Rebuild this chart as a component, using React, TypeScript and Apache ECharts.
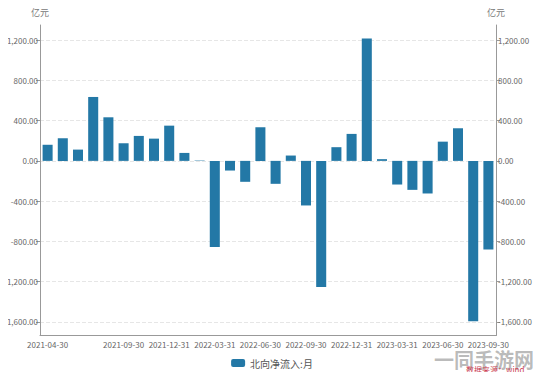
import React, { useEffect, useRef } from "react";
import * as echarts from "echarts";

const categories = [
  "2021-04-30", "2021-05-31", "2021-06-30", "2021-07-31", "2021-08-31", "2021-09-30",
  "2021-10-31", "2021-11-30", "2021-12-31", "2022-01-31", "2022-02-28", "2022-03-31",
  "2022-04-30", "2022-05-31", "2022-06-30", "2022-07-31", "2022-08-31", "2022-09-30",
  "2022-10-31", "2022-11-30", "2022-12-31", "2023-01-31", "2023-02-28", "2023-03-31",
  "2023-04-30", "2023-05-31", "2023-06-30", "2023-07-31", "2023-08-31", "2023-09-30",
];

const northboundFlow = [
  160, 225, 112, 635, 433, 175, 248, 221, 350, 79, 4, -856,
  -96, -208, 334, -228, 53, -443, -1253, 136, 268, 1217, 17, -235,
  -288, -324, 191, 324, -1594, -880,
];

const yTickValues = [-1600, -1200, -800, -400, 0, 400, 800, 1200];
const seriesName = "北向净流入:月";
const unitName = "亿元";
const sourceText = "数据来源：wind";
const watermarkText = "一同手游网";

const fmt = (v: number) =>
  v.toLocaleString("en-US", { minimumFractionDigits: 2, maximumFractionDigits: 2 });

const FONT = "'Noto Sans CJK SC', 'Noto Sans', sans-serif";

export default function App() {
  const ref = useRef<HTMLDivElement>(null);
  useEffect(() => {
    if (!ref.current) return;
    const chart = echarts.init(ref.current, null, { renderer: "svg" });
    const yAxisCommon = (pos: "left" | "right") => ({
      type: "value" as const,
      position: pos,
      min: -1735,
      max: 1350,
      name: unitName,
      nameLocation: "end" as const,
      nameGap: 8,
      nameTextStyle: { color: "#777", fontSize: 9, fontFamily: FONT, align: "center" },
      axisLine: { show: true, lineStyle: { color: "#999" } },
      axisTick: { show: true, length: 4, lineStyle: { color: "#999" }, customValues: yTickValues },
      axisLabel: {
        color: "#666",
        fontSize: 8,
        fontFamily: FONT,
        margin: 2,
        customValues: yTickValues,
        formatter: (v: number) => fmt(v),
      },
      splitLine: pos === "left"
        ? { show: true, lineStyle: { color: "#e6e6e6", type: "dashed" } }
        : { show: false },
    });
    chart.setOption({
      animation: false,
      grid: { left: 40, right: 48, top: 25, bottom: 44.5, containLabel: false },
      legend: {
        data: [seriesName],
        top: 353,
        left: "center",
        itemWidth: 14,
        itemHeight: 8,
        itemGap: 6,
        textStyle: { color: "#555", fontSize: 10, fontFamily: FONT },
      },
      xAxis: {
        type: "category",
        data: categories,
        axisLine: { onZero: false, lineStyle: { color: "#999" } },
        axisTick: {
          alignWithLabel: true,
          length: 4,
          lineStyle: { color: "#999" },
          interval: (i: number) => i === 0 || (i - 2) % 3 === 0,
        },
        axisLabel: {
          color: "#666",
          fontSize: 8,
          fontFamily: FONT,
          margin: 5,
          hideOverlap: false,
          showMaxLabel: true,
          showMinLabel: true,
          interval: (i: number) => i === 0 || ((i - 2) % 3 === 0 && i !== 2),
        },
      },
      yAxis: [yAxisCommon("left"), yAxisCommon("right")],
      series: [
        {
          name: seriesName,
          type: "bar",
          data: northboundFlow,
          barCategoryGap: "34%",
          itemStyle: { color: "#2378a6" },
        },
      ],
      graphic: [
        {
          type: "text",
          left: 434,
          top: 349,
          z: 100,
          style: {
            text: watermarkText,
            fill: "rgba(128,128,128,0.55)",
            font: `bold 20px ${FONT}`,
          },
        },
        {
          type: "text",
          left: 466,
          top: 365,
          z: 101,
          style: {
            text: sourceText,
            fill: "#cc4455",
            font: `8px ${FONT}`,
          },
        },
      ],
    });
    return () => chart.dispose();
  }, []);
  return <div ref={ref} style={{ width: 544, height: 380, margin: -8 }} />;
}
